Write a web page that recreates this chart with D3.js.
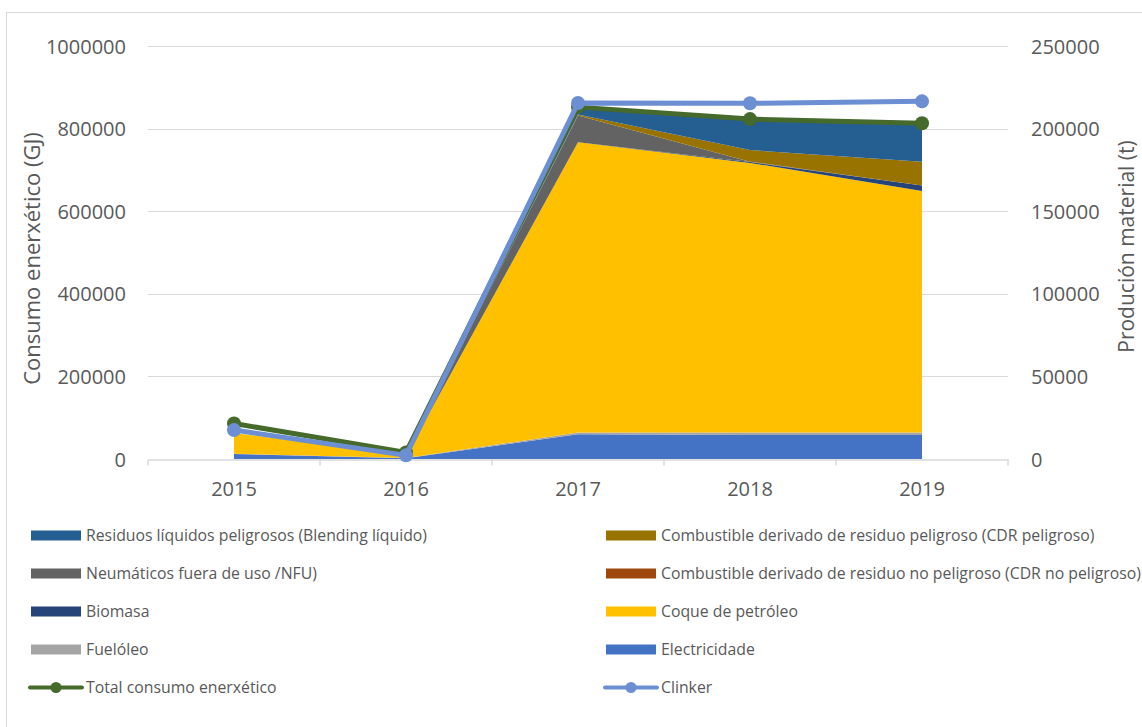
<!DOCTYPE html>
<html>
<head>
<meta charset="utf-8">
<script src="https://cdn.jsdelivr.net/npm/d3@7"></script>
<style>
  html, body { margin: 0; padding: 0; background: #fff; }
  svg { display: block; }
  text { font-family: "Open Sans", "Noto Sans", sans-serif; fill: #595959; }
</style>
</head>
<body>
<svg id="chart" width="1142" height="727"></svg>
<script>
// Years on the category axis
const years = ["2015", "2016", "2017", "2018", "2019"];

// Energy consumption by source (GJ), stacked bottom to top
const electricidade   = [12000, 2000, 60000, 58000, 58000];
const fueloleo        = [1000, 500, 4000, 6000, 6000];
const coque           = [50000, 6000, 703000, 653000, 585000];
const biomasa         = [0, 0, 0, 2000, 13500];
const cdrNoPeligroso  = [0, 0, 0, 0, 0];
const nfu             = [0, 0, 65000, 1000, 0];
const cdrPeligroso    = [0, 0, 2000, 28000, 57000];
const residuosLiq     = [0, 0, 15000, 75000, 94000];

// Line series
const totalConsumo = [86000, 16000, 852000, 823000, 813000]; // GJ, left axis
const clinker      = [17500, 2200, 215500, 215300, 216500];  // t, right axis

// Axis ticks
const leftTicks  = [0, 200000, 400000, 600000, 800000, 1000000];
const rightTicks = [0, 50000, 100000, 150000, 200000, 250000];

const seriesDefs = [
  { key: "Electricidade", values: electricidade, color: "#4472C4" },
  { key: "Fuelóleo", values: fueloleo, color: "#A5A5A5" },
  { key: "Coque de petróleo", values: coque, color: "#FFC000" },
  { key: "Biomasa", values: biomasa, color: "#264478" },
  { key: "Combustible derivado de residuo no peligroso (CDR no peligroso)", values: cdrNoPeligroso, color: "#9E480E" },
  { key: "Neumáticos fuera de uso /NFU)", values: nfu, color: "#636363" },
  { key: "Combustible derivado de residuo peligroso (CDR peligroso)", values: cdrPeligroso, color: "#997300" },
  { key: "Residuos líquidos peligrosos (Blending líquido)", values: residuosLiq, color: "#255E91" }
];
const totalColor = "#46692C";
const clinkerColor = "#6C8FD3";

const rows = years.map((y, i) => {
  const r = { year: y };
  seriesDefs.forEach(s => { r[s.key] = s.values[i]; });
  return r;
});

const svg = d3.select("#chart");

// chart frame
svg.append("rect")
  .attr("x", 6.5).attr("y", 12.5)
  .attr("width", 1142).attr("height", 727)
  .attr("fill", "none").attr("stroke", "#D9D9D9").attr("stroke-width", 1);

const plot = { left: 148, right: 1008, top: 46, bottom: 459 };

const x = d3.scaleBand().domain(years).range([plot.left, plot.right]).paddingInner(0).paddingOuter(0);
const cx = d => x(d) + x.bandwidth() / 2;
const yL = d3.scaleLinear().domain([0, 1000000]).range([plot.bottom, plot.top]);
const yR = d3.scaleLinear().domain([0, 250000]).range([plot.bottom, plot.top]);

// gridlines
svg.append("g").selectAll("line").data(leftTicks.slice(1)).join("line")
  .attr("x1", plot.left).attr("x2", plot.right)
  .attr("y1", d => Math.round(yL(d)) + 0.5).attr("y2", d => Math.round(yL(d)) + 0.5)
  .attr("stroke", "#D9D9D9").attr("stroke-width", 1);

// stacked areas
const stack = d3.stack().keys(seriesDefs.map(s => s.key));
const layers = stack(rows);
const area = d3.area()
  .x(d => cx(d.data.year))
  .y0(d => yL(d[0]))
  .y1(d => yL(d[1]));
svg.append("g").selectAll("path").data(layers).join("path")
  .attr("d", area)
  .attr("fill", (d, i) => seriesDefs[i].color);

// category axis
const xAxis = d3.axisBottom(x).tickSize(0).tickFormat("");
const gx = svg.append("g").attr("transform", `translate(0,${plot.bottom + 0.5})`).call(xAxis);
gx.select(".domain").attr("stroke", "#D9D9D9").attr("stroke-width", 1.5);
const boundaries = years.map(d => x(d)).concat([plot.right]);
gx.selectAll("line.bound").data(boundaries).join("line").attr("class", "bound")
  .attr("x1", d => d).attr("x2", d => d).attr("y1", 0).attr("y2", 6)
  .attr("stroke", "#D9D9D9").attr("stroke-width", 1.5);
svg.append("g").selectAll("text").data(years).join("text")
  .attr("x", d => cx(d)).attr("y", 496)
  .attr("text-anchor", "middle").attr("font-size", 20)
  .text(d => d);

// left axis labels
const yAxisL = d3.axisLeft(yL).tickValues(leftTicks).tickSize(0).tickPadding(0).tickFormat(d3.format("d"));
const gyl = svg.append("g").attr("transform", "translate(126,0)").call(yAxisL);
gyl.select(".domain").remove();
gyl.selectAll("text").attr("font-size", 20).attr("fill", "#595959").attr("font-family", "Open Sans").attr("dy", "0.35em");

// right axis labels
const yAxisR = d3.axisRight(yR).tickValues(rightTicks).tickSize(0).tickPadding(0).tickFormat(d3.format("d"));
const gyr = svg.append("g").attr("transform", "translate(1031,0)").call(yAxisR);
gyr.select(".domain").remove();
gyr.selectAll("text").attr("font-size", 20).attr("fill", "#595959").attr("font-family", "Open Sans").attr("dy", "0.35em");

// axis titles
svg.append("text")
  .attr("transform", `translate(40,${(plot.top + plot.bottom) / 2 + 6}) rotate(-90)`)
  .attr("text-anchor", "middle").attr("font-size", 22)
  .text("Consumo enerxético (GJ)");
svg.append("text")
  .attr("transform", `translate(1134,${(plot.top + plot.bottom) / 2 - 6}) rotate(-90)`)
  .attr("text-anchor", "middle").attr("font-size", 21)
  .text("Produción material (t)");

// lines with markers
function drawLine(values, scale, color) {
  const pts = years.map((y, i) => [cx(y), scale(values[i])]);
  const g = svg.append("g");
  g.append("path")
    .attr("d", d3.line()(pts))
    .attr("fill", "none").attr("stroke", color)
    .attr("stroke-width", 5).attr("stroke-linejoin", "round").attr("stroke-linecap", "round");
  g.selectAll("circle").data(pts).join("circle")
    .attr("cx", d => d[0]).attr("cy", d => d[1]).attr("r", 7)
    .attr("fill", color);
}
drawLine(totalConsumo, yL, totalColor);
drawLine(clinker, yR, clinkerColor);

// legend
const legendItems = [
  { label: "Residuos líquidos peligrosos (Blending líquido)", color: "#255E91", type: "area" },
  { label: "Combustible derivado de residuo peligroso (CDR peligroso)", color: "#997300", type: "area" },
  { label: "Neumáticos fuera de uso /NFU)", color: "#636363", type: "area" },
  { label: "Combustible derivado de residuo no peligroso (CDR no peligroso)", color: "#9E480E", type: "area" },
  { label: "Biomasa", color: "#264478", type: "area" },
  { label: "Coque de petróleo", color: "#FFC000", type: "area" },
  { label: "Fuelóleo", color: "#A5A5A5", type: "area" },
  { label: "Electricidade", color: "#4472C4", type: "area" },
  { label: "Total consumo enerxético", color: totalColor, type: "line" },
  { label: "Clinker", color: clinkerColor, type: "line" }
];
const colX = [31, 606];
const legend = svg.append("g");
legendItems.forEach((it, i) => {
  const col = i % 2, row = Math.floor(i / 2);
  const x0 = colX[col];
  const yc = 535.5 + row * 38;
  const g = legend.append("g");
  if (it.type === "area") {
    g.append("rect").attr("x", x0).attr("y", yc - 5).attr("width", 50).attr("height", 10).attr("fill", it.color);
  } else {
    g.append("line").attr("x1", x0 - 1).attr("x2", x0 + 51).attr("y1", yc).attr("y2", yc)
      .attr("stroke", it.color).attr("stroke-width", 4).attr("stroke-linecap", "round");
    g.append("circle").attr("cx", x0 + 25).attr("cy", yc).attr("r", 5.5).attr("fill", it.color);
  }
  g.append("text").attr("x", x0 + 55).attr("y", yc).attr("dy", "0.35em")
    .attr("font-size", 15.8).text(it.label);
});
</script>
</body>
</html>
